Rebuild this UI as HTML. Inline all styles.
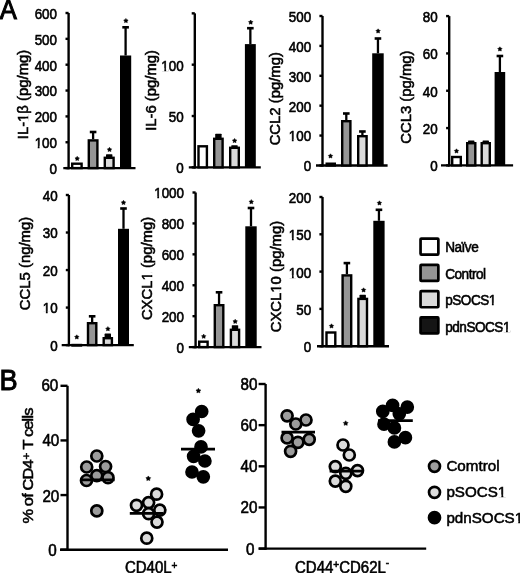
<!DOCTYPE html>
<html><head><meta charset="utf-8"><style>
html,body{margin:0;padding:0;background:#fff;}
body{width:520px;height:573px;overflow:hidden;}
svg{display:block;font-family:"Liberation Sans", sans-serif;will-change:transform;}
text{stroke:#000;stroke-width:0.55px;}
</style></head><body>
<svg width="520" height="573" viewBox="0 0 520 573">
<rect width="520" height="573" fill="#fff"/>
<line x1="68.6" y1="13" x2="68.6" y2="169.29999999999998" stroke="#000" stroke-width="2.4"/>
<line x1="63.3" y1="168.1" x2="135.5" y2="168.1" stroke="#000" stroke-width="2.4"/>
<line x1="65.5" y1="168.1" x2="68.6" y2="168.1" stroke="#000" stroke-width="2.4"/>
<g transform="translate(57.0 174.0) scale(1 1.09)"><text id="t3" x="0" y="0" font-size="13.4" text-anchor="end">0</text></g>
<line x1="65.5" y1="142.25" x2="68.6" y2="142.25" stroke="#000" stroke-width="2.4"/>
<g transform="translate(57.0 148.15) scale(1 1.09)"><text id="t5" x="0" y="0" font-size="13.4" text-anchor="end">100</text><rect x="-22.58" y="-2.15" width="3.32" height="3.05" fill="#fff"/><rect x="-17.48" y="-2.15" width="2.45" height="3.05" fill="#fff"/></g>
<line x1="65.5" y1="116.4" x2="68.6" y2="116.4" stroke="#000" stroke-width="2.4"/>
<g transform="translate(57.0 122.30000000000001) scale(1 1.09)"><text id="t7" x="0" y="0" font-size="13.4" text-anchor="end">200</text></g>
<line x1="65.5" y1="90.55" x2="68.6" y2="90.55" stroke="#000" stroke-width="2.4"/>
<g transform="translate(57.0 96.45) scale(1 1.09)"><text id="t9" x="0" y="0" font-size="13.4" text-anchor="end">300</text></g>
<line x1="65.5" y1="64.7" x2="68.6" y2="64.7" stroke="#000" stroke-width="2.4"/>
<g transform="translate(57.0 70.60000000000001) scale(1 1.09)"><text id="t11" x="0" y="0" font-size="13.4" text-anchor="end">400</text></g>
<line x1="65.5" y1="38.849999999999994" x2="68.6" y2="38.849999999999994" stroke="#000" stroke-width="2.4"/>
<g transform="translate(57.0 44.74999999999999) scale(1 1.09)"><text id="t13" x="0" y="0" font-size="13.4" text-anchor="end">500</text></g>
<line x1="65.5" y1="13.0" x2="68.6" y2="13.0" stroke="#000" stroke-width="2.4"/>
<g transform="translate(57.0 18.9) scale(1 1.09)"><text id="t15" x="0" y="0" font-size="13.4" text-anchor="end">600</text></g>
<rect x="72.2" y="163.7" width="9.4" height="4.399999999999994" fill="#fff" stroke="#000" stroke-width="2.4"/>
<polygon points="77.20,156.30 77.96,157.60 79.43,157.92 78.44,159.05 78.58,160.55 77.20,159.95 75.82,160.55 75.96,159.05 74.97,157.92 76.44,157.60" fill="#000" stroke="#000" stroke-width="0.5" stroke-linejoin="round"/>
<line x1="93.1" y1="131.5" x2="93.1" y2="139.2" stroke="#000" stroke-width="2.3"/>
<line x1="89.8" y1="132.0" x2="96.39999999999999" y2="132.0" stroke="#000" stroke-width="2.6"/>
<rect x="88.8" y="140.39999999999998" width="8.6" height="27.700000000000006" fill="#959595" stroke="#000" stroke-width="2.4"/>
<rect x="105.99999999999999" y="154.2" width="6.4" height="3.399999999999994" fill="#000" rx="0.6"/>
<rect x="104.8" y="157.79999999999998" width="8.799999999999999" height="10.3" fill="#dadada" stroke="#000" stroke-width="2.4"/>
<polygon points="109.50,147.30 110.26,148.60 111.73,148.92 110.74,150.05 110.88,151.55 109.50,150.95 108.12,151.55 108.26,150.05 107.27,148.92 108.74,148.60" fill="#000" stroke="#000" stroke-width="0.5" stroke-linejoin="round"/>
<line x1="125.6" y1="26.8" x2="125.6" y2="55.5" stroke="#000" stroke-width="2.3"/>
<line x1="122.3" y1="27.3" x2="128.9" y2="27.3" stroke="#000" stroke-width="2.6"/>
<rect x="120" y="55.5" width="11.2" height="112.6" fill="#000"/>
<polygon points="125.90,18.40 126.66,19.70 128.13,20.02 127.14,21.15 127.28,22.65 125.90,22.05 124.52,22.65 124.66,21.15 123.67,20.02 125.14,19.70" fill="#000" stroke="#000" stroke-width="0.5" stroke-linejoin="round"/>
<g transform="translate(27.75 94.5) scale(1 1.033) rotate(-90)"><text id="t28" x="0" y="0" font-size="14.4" text-anchor="middle">IL-1β (pg/mg)</text><rect x="-26.79" y="-2.23" width="3.57" height="3.13" fill="#fff"/><rect x="-21.34" y="-2.23" width="2.65" height="3.13" fill="#fff"/></g>
<line x1="194.8" y1="13.35" x2="194.8" y2="168.54999999999998" stroke="#000" stroke-width="2.4"/>
<line x1="188.8" y1="167.35" x2="260.8" y2="167.35" stroke="#000" stroke-width="2.4"/>
<line x1="191.70000000000002" y1="167.35" x2="194.8" y2="167.35" stroke="#000" stroke-width="2.4"/>
<g transform="translate(183.6 173.25) scale(1 1.09)"><text id="t32" x="0" y="0" font-size="13.4" text-anchor="end">0</text></g>
<line x1="191.70000000000002" y1="116.01666666666665" x2="194.8" y2="116.01666666666665" stroke="#000" stroke-width="2.4"/>
<g transform="translate(183.6 121.91666666666666) scale(1 1.09)"><text id="t34" x="0" y="0" font-size="13.4" text-anchor="end">50</text></g>
<line x1="191.70000000000002" y1="64.68333333333332" x2="194.8" y2="64.68333333333332" stroke="#000" stroke-width="2.4"/>
<g transform="translate(183.6 70.58333333333333) scale(1 1.09)"><text id="t36" x="0" y="0" font-size="13.4" text-anchor="end">100</text><rect x="-22.58" y="-2.15" width="3.32" height="3.05" fill="#fff"/><rect x="-17.48" y="-2.15" width="2.45" height="3.05" fill="#fff"/></g>
<line x1="191.70000000000002" y1="13.349999999999994" x2="194.8" y2="13.349999999999994" stroke="#000" stroke-width="2.4"/>
<rect x="198.5" y="146.29999999999998" width="8.4" height="21.05" fill="#fff" stroke="#000" stroke-width="2.4"/>
<rect x="215.20000000000002" y="133.7" width="6.4" height="4.899999999999994" fill="#000" rx="0.6"/>
<rect x="214.2" y="138.79999999999998" width="8.4" height="28.55" fill="#959595" stroke="#000" stroke-width="2.4"/>
<rect x="231.3" y="145.2" width="6.4" height="2.399999999999994" fill="#000" rx="0.6"/>
<rect x="230.2" y="147.79999999999998" width="8.6" height="19.55" fill="#dadada" stroke="#000" stroke-width="2.4"/>
<polygon points="234.60,138.40 235.36,139.70 236.83,140.02 235.84,141.15 235.98,142.65 234.60,142.05 233.22,142.65 233.36,141.15 232.37,140.02 233.84,139.70" fill="#000" stroke="#000" stroke-width="0.5" stroke-linejoin="round"/>
<line x1="250.35" y1="27.7" x2="250.35" y2="44.1" stroke="#000" stroke-width="2.3"/>
<line x1="247.04999999999998" y1="28.2" x2="253.65" y2="28.2" stroke="#000" stroke-width="2.6"/>
<rect x="244.9" y="44.1" width="10.9" height="123.25" fill="#000"/>
<polygon points="250.70,20.00 251.46,21.30 252.93,21.62 251.94,22.75 252.08,24.25 250.70,23.65 249.32,24.25 249.46,22.75 248.47,21.62 249.94,21.30" fill="#000" stroke="#000" stroke-width="0.5" stroke-linejoin="round"/>
<g transform="translate(156.35 90.4) scale(1 1.033) rotate(-90)"><text id="t48" x="0" y="0" font-size="14.4" text-anchor="middle">IL-6 (pg/mg)</text></g>
<line x1="322.5" y1="16.0" x2="322.5" y2="166.64999999999998" stroke="#000" stroke-width="2.4"/>
<line x1="316" y1="165.45" x2="387.6" y2="165.45" stroke="#000" stroke-width="2.4"/>
<line x1="319.4" y1="165.45" x2="322.5" y2="165.45" stroke="#000" stroke-width="2.4"/>
<g transform="translate(311.1 171.35) scale(1 1.09)"><text id="t52" x="0" y="0" font-size="13.4" text-anchor="end">0</text></g>
<line x1="319.4" y1="135.56" x2="322.5" y2="135.56" stroke="#000" stroke-width="2.4"/>
<g transform="translate(311.1 141.46) scale(1 1.09)"><text id="t54" x="0" y="0" font-size="13.4" text-anchor="end">100</text><rect x="-22.58" y="-2.15" width="3.32" height="3.05" fill="#fff"/><rect x="-17.48" y="-2.15" width="2.45" height="3.05" fill="#fff"/></g>
<line x1="319.4" y1="105.66999999999999" x2="322.5" y2="105.66999999999999" stroke="#000" stroke-width="2.4"/>
<g transform="translate(311.1 111.57) scale(1 1.09)"><text id="t56" x="0" y="0" font-size="13.4" text-anchor="end">200</text></g>
<line x1="319.4" y1="75.78" x2="322.5" y2="75.78" stroke="#000" stroke-width="2.4"/>
<g transform="translate(311.1 81.68) scale(1 1.09)"><text id="t58" x="0" y="0" font-size="13.4" text-anchor="end">300</text></g>
<line x1="319.4" y1="45.89" x2="322.5" y2="45.89" stroke="#000" stroke-width="2.4"/>
<g transform="translate(311.1 51.79) scale(1 1.09)"><text id="t60" x="0" y="0" font-size="13.4" text-anchor="end">400</text></g>
<line x1="319.4" y1="16.0" x2="322.5" y2="16.0" stroke="#000" stroke-width="2.4"/>
<g transform="translate(311.1 21.9) scale(1 1.09)"><text id="t62" x="0" y="0" font-size="13.4" text-anchor="end">500</text></g>
<rect x="326.7" y="163.7" width="8.1" height="1.7499999999999887" fill="#fff" stroke="#000" stroke-width="2.4"/>
<polygon points="330.50,153.80 331.26,155.10 332.73,155.42 331.74,156.55 331.88,158.05 330.50,157.45 329.12,158.05 329.26,156.55 328.27,155.42 329.74,155.10" fill="#000" stroke="#000" stroke-width="0.5" stroke-linejoin="round"/>
<line x1="346.3" y1="113" x2="346.3" y2="120" stroke="#000" stroke-width="2.3"/>
<line x1="343.0" y1="113.5" x2="349.6" y2="113.5" stroke="#000" stroke-width="2.6"/>
<rect x="342.2" y="121.2" width="8.2" height="44.249999999999986" fill="#959595" stroke="#000" stroke-width="2.4"/>
<line x1="362.4" y1="131" x2="362.4" y2="135" stroke="#000" stroke-width="2.3"/>
<line x1="359.09999999999997" y1="131.5" x2="365.7" y2="131.5" stroke="#000" stroke-width="2.6"/>
<rect x="358.2" y="136.2" width="8.4" height="29.24999999999999" fill="#dadada" stroke="#000" stroke-width="2.4"/>
<line x1="377.95" y1="38" x2="377.95" y2="53.3" stroke="#000" stroke-width="2.3"/>
<line x1="374.65" y1="38.5" x2="381.25" y2="38.5" stroke="#000" stroke-width="2.6"/>
<rect x="372.2" y="53.3" width="11.5" height="112.14999999999999" fill="#000"/>
<polygon points="378.10,28.80 378.86,30.10 380.33,30.42 379.34,31.55 379.48,33.05 378.10,32.45 376.72,33.05 376.86,31.55 375.87,30.42 377.34,30.10" fill="#000" stroke="#000" stroke-width="0.5" stroke-linejoin="round"/>
<g transform="translate(280.15 98.7) scale(1 1.033) rotate(-90)"><text id="t75" x="0" y="0" font-size="14.4" text-anchor="middle">CCL2 (pg/mg)</text></g>
<line x1="449.2" y1="16.1" x2="449.2" y2="166.6" stroke="#000" stroke-width="2.4"/>
<line x1="441" y1="165.4" x2="513.1" y2="165.4" stroke="#000" stroke-width="2.4"/>
<line x1="446.09999999999997" y1="165.4" x2="449.2" y2="165.4" stroke="#000" stroke-width="2.4"/>
<g transform="translate(437.6 171.3) scale(1 1.09)"><text id="t79" x="0" y="0" font-size="13.4" text-anchor="end">0</text></g>
<line x1="446.09999999999997" y1="128.075" x2="449.2" y2="128.075" stroke="#000" stroke-width="2.4"/>
<g transform="translate(437.6 133.975) scale(1 1.09)"><text id="t81" x="0" y="0" font-size="13.4" text-anchor="end">20</text></g>
<line x1="446.09999999999997" y1="90.75" x2="449.2" y2="90.75" stroke="#000" stroke-width="2.4"/>
<g transform="translate(437.6 96.65) scale(1 1.09)"><text id="t83" x="0" y="0" font-size="13.4" text-anchor="end">40</text></g>
<line x1="446.09999999999997" y1="53.425" x2="449.2" y2="53.425" stroke="#000" stroke-width="2.4"/>
<g transform="translate(437.6 59.324999999999996) scale(1 1.09)"><text id="t85" x="0" y="0" font-size="13.4" text-anchor="end">60</text></g>
<line x1="446.09999999999997" y1="16.099999999999994" x2="449.2" y2="16.099999999999994" stroke="#000" stroke-width="2.4"/>
<g transform="translate(437.6 21.999999999999993) scale(1 1.09)"><text id="t87" x="0" y="0" font-size="13.4" text-anchor="end">80</text></g>
<rect x="452.2" y="157.0" width="8.6" height="8.399999999999995" fill="#fff" stroke="#000" stroke-width="2.4"/>
<polygon points="456.50,148.80 457.26,150.10 458.73,150.42 457.74,151.55 457.88,153.05 456.50,152.45 455.12,153.05 455.26,151.55 454.27,150.42 455.74,150.10" fill="#000" stroke="#000" stroke-width="0.5" stroke-linejoin="round"/>
<rect x="468.05" y="140.5" width="6.4" height="2.4999999999999885" fill="#000" rx="0.6"/>
<rect x="467.2" y="143.2" width="8.1" height="22.200000000000006" fill="#959595" stroke="#000" stroke-width="2.4"/>
<rect x="482.55" y="140.5" width="6.4" height="2.4999999999999885" fill="#000" rx="0.6"/>
<rect x="481.7" y="143.2" width="8.1" height="22.200000000000006" fill="#dadada" stroke="#000" stroke-width="2.4"/>
<line x1="499.90000000000003" y1="55.5" x2="499.90000000000003" y2="72" stroke="#000" stroke-width="2.3"/>
<line x1="496.6" y1="56.0" x2="503.20000000000005" y2="56.0" stroke="#000" stroke-width="2.6"/>
<rect x="494.6" y="72" width="10.6" height="93.4" fill="#000"/>
<polygon points="499.90,46.80 500.66,48.10 502.13,48.42 501.14,49.55 501.28,51.05 499.90,50.45 498.52,51.05 498.66,49.55 497.67,48.42 499.14,48.10" fill="#000" stroke="#000" stroke-width="0.5" stroke-linejoin="round"/>
<g transform="translate(411.25 97.1) scale(1 1.033) rotate(-90)"><text id="t98" x="0" y="0" font-size="14.4" text-anchor="middle">CCL3 (pg/mg)</text></g>
<line x1="68.9" y1="195" x2="68.9" y2="346.3" stroke="#000" stroke-width="2.4"/>
<line x1="61.7" y1="345.1" x2="133.8" y2="345.1" stroke="#000" stroke-width="2.4"/>
<line x1="65.80000000000001" y1="345.1" x2="68.9" y2="345.1" stroke="#000" stroke-width="2.4"/>
<g transform="translate(57.7 351.0) scale(1 1.09)"><text id="t102" x="0" y="0" font-size="13.4" text-anchor="end">0</text></g>
<line x1="65.80000000000001" y1="307.57500000000005" x2="68.9" y2="307.57500000000005" stroke="#000" stroke-width="2.4"/>
<g transform="translate(57.7 313.475) scale(1 1.09)"><text id="t104" x="0" y="0" font-size="13.4" text-anchor="end">10</text><rect x="-15.14" y="-2.15" width="3.32" height="3.05" fill="#fff"/><rect x="-10.04" y="-2.15" width="2.45" height="3.05" fill="#fff"/></g>
<line x1="65.80000000000001" y1="270.05" x2="68.9" y2="270.05" stroke="#000" stroke-width="2.4"/>
<g transform="translate(57.7 275.95) scale(1 1.09)"><text id="t106" x="0" y="0" font-size="13.4" text-anchor="end">20</text></g>
<line x1="65.80000000000001" y1="232.525" x2="68.9" y2="232.525" stroke="#000" stroke-width="2.4"/>
<g transform="translate(57.7 238.425) scale(1 1.09)"><text id="t108" x="0" y="0" font-size="13.4" text-anchor="end">30</text></g>
<line x1="65.80000000000001" y1="195.0" x2="68.9" y2="195.0" stroke="#000" stroke-width="2.4"/>
<g transform="translate(57.7 200.9) scale(1 1.09)"><text id="t110" x="0" y="0" font-size="13.4" text-anchor="end">40</text></g>
<rect x="72.5" y="345.0" width="8.5" height="0.5" fill="#fff" stroke="#000" stroke-width="2.4"/>
<polygon points="76.80,334.80 77.56,336.10 79.03,336.42 78.04,337.55 78.18,339.05 76.80,338.45 75.42,339.05 75.56,337.55 74.57,336.42 76.04,336.10" fill="#000" stroke="#000" stroke-width="0.5" stroke-linejoin="round"/>
<line x1="92.14999999999999" y1="315.8" x2="92.14999999999999" y2="322" stroke="#000" stroke-width="2.3"/>
<line x1="88.85" y1="316.3" x2="95.44999999999999" y2="316.3" stroke="#000" stroke-width="2.6"/>
<rect x="88.0" y="323.2" width="8.299999999999999" height="21.900000000000023" fill="#959595" stroke="#000" stroke-width="2.4"/>
<rect x="104.6" y="333.59999999999997" width="6.4" height="4.400000000000023" fill="#000" rx="0.6"/>
<rect x="103.7" y="338.2" width="8.2" height="6.900000000000023" fill="#dadada" stroke="#000" stroke-width="2.4"/>
<polygon points="107.90,326.60 108.66,327.90 110.13,328.22 109.14,329.35 109.28,330.85 107.90,330.25 106.52,330.85 106.66,329.35 105.67,328.22 107.14,327.90" fill="#000" stroke="#000" stroke-width="0.5" stroke-linejoin="round"/>
<line x1="123.5" y1="208" x2="123.5" y2="228.8" stroke="#000" stroke-width="2.3"/>
<line x1="120.2" y1="208.5" x2="126.8" y2="208.5" stroke="#000" stroke-width="2.6"/>
<rect x="118" y="228.8" width="11" height="116.30000000000001" fill="#000"/>
<polygon points="123.50,200.30 124.26,201.60 125.73,201.92 124.74,203.05 124.88,204.55 123.50,203.95 122.12,204.55 122.26,203.05 121.27,201.92 122.74,201.60" fill="#000" stroke="#000" stroke-width="0.5" stroke-linejoin="round"/>
<g transform="translate(29.75 263.5) scale(1 1.033) rotate(-90)"><text id="t123" x="0" y="0" font-size="14.4" text-anchor="middle">CCL5 (ng/mg)</text></g>
<line x1="195.6" y1="192.5" x2="195.6" y2="348.3" stroke="#000" stroke-width="2.4"/>
<line x1="188.8" y1="347.1" x2="261.5" y2="347.1" stroke="#000" stroke-width="2.4"/>
<line x1="192.5" y1="347.1" x2="195.6" y2="347.1" stroke="#000" stroke-width="2.4"/>
<g transform="translate(184.0 353.0) scale(1 1.09)"><text id="t127" x="0" y="0" font-size="13.4" text-anchor="end">0</text></g>
<line x1="192.5" y1="316.18" x2="195.6" y2="316.18" stroke="#000" stroke-width="2.4"/>
<g transform="translate(184.0 322.08) scale(1 1.09)"><text id="t129" x="0" y="0" font-size="13.4" text-anchor="end">200</text></g>
<line x1="192.5" y1="285.26" x2="195.6" y2="285.26" stroke="#000" stroke-width="2.4"/>
<g transform="translate(184.0 291.15999999999997) scale(1 1.09)"><text id="t131" x="0" y="0" font-size="13.4" text-anchor="end">400</text></g>
<line x1="192.5" y1="254.34" x2="195.6" y2="254.34" stroke="#000" stroke-width="2.4"/>
<g transform="translate(184.0 260.24) scale(1 1.09)"><text id="t133" x="0" y="0" font-size="13.4" text-anchor="end">600</text></g>
<line x1="192.5" y1="223.42000000000002" x2="195.6" y2="223.42000000000002" stroke="#000" stroke-width="2.4"/>
<g transform="translate(184.0 229.32000000000002) scale(1 1.09)"><text id="t135" x="0" y="0" font-size="13.4" text-anchor="end">800</text></g>
<line x1="192.5" y1="192.5" x2="195.6" y2="192.5" stroke="#000" stroke-width="2.4"/>
<g transform="translate(184.0 198.4) scale(1 1.09)"><text id="t137" x="0" y="0" font-size="13.4" text-anchor="end">1000</text><rect x="-30.04" y="-2.15" width="3.32" height="3.05" fill="#fff"/><rect x="-24.93" y="-2.15" width="2.45" height="3.05" fill="#fff"/></g>
<rect x="199.2" y="341.7" width="8.4" height="5.400000000000023" fill="#fff" stroke="#000" stroke-width="2.4"/>
<polygon points="203.70,334.10 204.46,335.40 205.93,335.72 204.94,336.85 205.08,338.35 203.70,337.75 202.32,338.35 202.46,336.85 201.47,335.72 202.94,335.40" fill="#000" stroke="#000" stroke-width="0.5" stroke-linejoin="round"/>
<line x1="219.04999999999998" y1="291.8" x2="219.04999999999998" y2="304" stroke="#000" stroke-width="2.3"/>
<line x1="215.74999999999997" y1="292.3" x2="222.35" y2="292.3" stroke="#000" stroke-width="2.6"/>
<rect x="214.79999999999998" y="305.2" width="8.5" height="41.90000000000002" fill="#959595" stroke="#000" stroke-width="2.4"/>
<rect x="231.8" y="325.2" width="6.4" height="4.400000000000023" fill="#000" rx="0.6"/>
<rect x="230.89999999999998" y="329.8" width="8.2" height="17.3" fill="#dadada" stroke="#000" stroke-width="2.4"/>
<polygon points="235.20,319.20 235.96,320.50 237.43,320.82 236.44,321.95 236.58,323.45 235.20,322.85 233.82,323.45 233.96,321.95 232.97,320.82 234.44,320.50" fill="#000" stroke="#000" stroke-width="0.5" stroke-linejoin="round"/>
<line x1="251.0" y1="207.5" x2="251.0" y2="226.3" stroke="#000" stroke-width="2.3"/>
<line x1="247.7" y1="208.0" x2="254.3" y2="208.0" stroke="#000" stroke-width="2.6"/>
<rect x="245.3" y="226.3" width="11.4" height="120.80000000000001" fill="#000"/>
<polygon points="251.30,199.60 252.06,200.90 253.53,201.22 252.54,202.35 252.68,203.85 251.30,203.25 249.92,203.85 250.06,202.35 249.07,201.22 250.54,200.90" fill="#000" stroke="#000" stroke-width="0.5" stroke-linejoin="round"/>
<g transform="translate(152.05 268.5) scale(1 1.033) rotate(-90)"><text id="t150" x="0" y="0" font-size="14.4" text-anchor="middle">CXCL1 (pg/mg)</text><rect x="-11.86" y="-2.23" width="3.57" height="3.13" fill="#fff"/><rect x="-6.42" y="-2.23" width="2.65" height="3.13" fill="#fff"/></g>
<line x1="322.5" y1="197" x2="322.5" y2="347.4" stroke="#000" stroke-width="2.4"/>
<line x1="317" y1="346.2" x2="389" y2="346.2" stroke="#000" stroke-width="2.4"/>
<line x1="319.4" y1="346.2" x2="322.5" y2="346.2" stroke="#000" stroke-width="2.4"/>
<g transform="translate(311.2 352.09999999999997) scale(1 1.09)"><text id="t154" x="0" y="0" font-size="13.4" text-anchor="end">0</text></g>
<line x1="319.4" y1="308.9" x2="322.5" y2="308.9" stroke="#000" stroke-width="2.4"/>
<g transform="translate(311.2 314.79999999999995) scale(1 1.09)"><text id="t156" x="0" y="0" font-size="13.4" text-anchor="end">50</text></g>
<line x1="319.4" y1="271.6" x2="322.5" y2="271.6" stroke="#000" stroke-width="2.4"/>
<g transform="translate(311.2 277.5) scale(1 1.09)"><text id="t158" x="0" y="0" font-size="13.4" text-anchor="end">100</text><rect x="-22.58" y="-2.15" width="3.32" height="3.05" fill="#fff"/><rect x="-17.48" y="-2.15" width="2.45" height="3.05" fill="#fff"/></g>
<line x1="319.4" y1="234.3" x2="322.5" y2="234.3" stroke="#000" stroke-width="2.4"/>
<g transform="translate(311.2 240.20000000000002) scale(1 1.09)"><text id="t160" x="0" y="0" font-size="13.4" text-anchor="end">150</text><rect x="-22.58" y="-2.15" width="3.32" height="3.05" fill="#fff"/><rect x="-17.48" y="-2.15" width="2.45" height="3.05" fill="#fff"/></g>
<line x1="319.4" y1="197.0" x2="322.5" y2="197.0" stroke="#000" stroke-width="2.4"/>
<g transform="translate(311.2 202.9) scale(1 1.09)"><text id="t162" x="0" y="0" font-size="13.4" text-anchor="end">200</text></g>
<rect x="326.5" y="332.5" width="8.799999999999999" height="13.699999999999978" fill="#fff" stroke="#000" stroke-width="2.4"/>
<polygon points="331.50,323.80 332.26,325.10 333.73,325.42 332.74,326.55 332.88,328.05 331.50,327.45 330.12,328.05 330.26,326.55 329.27,325.42 330.74,325.10" fill="#000" stroke="#000" stroke-width="0.5" stroke-linejoin="round"/>
<line x1="346.9" y1="262.6" x2="346.9" y2="274.2" stroke="#000" stroke-width="2.3"/>
<line x1="343.59999999999997" y1="263.1" x2="350.2" y2="263.1" stroke="#000" stroke-width="2.6"/>
<rect x="342.59999999999997" y="275.4" width="8.6" height="70.8" fill="#959595" stroke="#000" stroke-width="2.4"/>
<rect x="359.5" y="294.8" width="6.4" height="3.8999999999999657" fill="#000" rx="0.6"/>
<rect x="358.4" y="298.9" width="8.6" height="47.3" fill="#dadada" stroke="#000" stroke-width="2.4"/>
<polygon points="363.60,287.80 364.36,289.10 365.83,289.42 364.84,290.55 364.98,292.05 363.60,291.45 362.22,292.05 362.36,290.55 361.37,289.42 362.84,289.10" fill="#000" stroke="#000" stroke-width="0.5" stroke-linejoin="round"/>
<line x1="378.95" y1="209.3" x2="378.95" y2="220.8" stroke="#000" stroke-width="2.3"/>
<line x1="375.65" y1="209.8" x2="382.25" y2="209.8" stroke="#000" stroke-width="2.6"/>
<rect x="373.3" y="220.8" width="11.3" height="125.39999999999998" fill="#000"/>
<polygon points="379.40,200.80 380.16,202.10 381.63,202.42 380.64,203.55 380.78,205.05 379.40,204.45 378.02,205.05 378.16,203.55 377.17,202.42 378.64,202.10" fill="#000" stroke="#000" stroke-width="0.5" stroke-linejoin="round"/>
<g transform="translate(281.45 276.6) scale(1 1.033) rotate(-90)"><text id="t175" x="0" y="0" font-size="14.4" text-anchor="middle">CXCL10 (pg/mg)</text><rect x="-15.86" y="-2.23" width="3.57" height="3.13" fill="#fff"/><rect x="-10.41" y="-2.23" width="2.65" height="3.13" fill="#fff"/></g>
<line x1="67.5" y1="385.8" x2="67.5" y2="550.9000000000001" stroke="#000" stroke-width="2.4"/>
<line x1="60" y1="549.7" x2="228" y2="549.7" stroke="#000" stroke-width="2.4"/>
<line x1="60.5" y1="549.7" x2="67.5" y2="549.7" stroke="#000" stroke-width="2.4"/>
<g transform="translate(56.699999999999996 556.3000000000001) scale(1 1.05)"><text id="t179" x="0" y="0" font-size="15.2" text-anchor="end">0</text></g>
<line x1="60.5" y1="495.0666666666667" x2="67.5" y2="495.0666666666667" stroke="#000" stroke-width="2.4"/>
<g transform="translate(59.3 501.66666666666674) scale(1 1.05)"><text id="t181" x="0" y="0" font-size="15.2" text-anchor="end">20</text></g>
<line x1="60.5" y1="440.43333333333334" x2="67.5" y2="440.43333333333334" stroke="#000" stroke-width="2.4"/>
<g transform="translate(59.3 446.43333333333334) scale(1 1.05)"><text id="t183" x="0" y="0" font-size="15.2" text-anchor="end">40</text></g>
<line x1="60.5" y1="385.8" x2="67.5" y2="385.8" stroke="#000" stroke-width="2.4"/>
<g transform="translate(58.3 390.5) scale(1 1.05)"><text id="t185" x="0" y="0" font-size="15.2" text-anchor="end">60</text></g>
<circle cx="96.8" cy="456" r="5.5" fill="#9c9c9c" stroke="#000" stroke-width="2.7"/>
<circle cx="86.7" cy="467" r="5.5" fill="#9c9c9c" stroke="#000" stroke-width="2.7"/>
<circle cx="105.6" cy="466.5" r="5.5" fill="#9c9c9c" stroke="#000" stroke-width="2.7"/>
<circle cx="96.8" cy="475.6" r="5.5" fill="#9c9c9c" stroke="#000" stroke-width="2.7"/>
<circle cx="86.5" cy="480.5" r="5.5" fill="#9c9c9c" stroke="#000" stroke-width="2.7"/>
<circle cx="108" cy="477.7" r="5.5" fill="#9c9c9c" stroke="#000" stroke-width="2.7"/>
<circle cx="96.8" cy="510.9" r="5.5" fill="#9c9c9c" stroke="#000" stroke-width="2.7"/>
<line x1="80.5" y1="479.9" x2="114.6" y2="479.9" stroke="#000" stroke-width="2.7"/>
<circle cx="156.6" cy="494.2" r="5.5" fill="#dcdcdc" stroke="#000" stroke-width="2.7"/>
<circle cx="136.5" cy="505.3" r="5.5" fill="#dcdcdc" stroke="#000" stroke-width="2.7"/>
<circle cx="148.6" cy="502.6" r="5.5" fill="#dcdcdc" stroke="#000" stroke-width="2.7"/>
<circle cx="159.8" cy="510.2" r="5.5" fill="#dcdcdc" stroke="#000" stroke-width="2.7"/>
<circle cx="148.6" cy="513.7" r="5.5" fill="#dcdcdc" stroke="#000" stroke-width="2.7"/>
<circle cx="157" cy="522.1" r="5.5" fill="#dcdcdc" stroke="#000" stroke-width="2.7"/>
<circle cx="146.75" cy="538.2" r="5.5" fill="#dcdcdc" stroke="#000" stroke-width="2.7"/>
<line x1="129.8" y1="513.4" x2="163" y2="513.4" stroke="#000" stroke-width="2.7"/>
<polygon points="148.30,475.95 149.15,477.33 150.73,477.71 149.68,478.95 149.80,480.56 148.30,479.95 146.80,480.56 146.92,478.95 145.87,477.71 147.45,477.33" fill="#000" stroke="#000" stroke-width="0.5" stroke-linejoin="round"/>
<circle cx="201.7" cy="411.5" r="5.5" fill="#000" stroke="#000" stroke-width="2.7"/>
<circle cx="193.1" cy="419.4" r="5.5" fill="#000" stroke="#000" stroke-width="2.7"/>
<circle cx="198.6" cy="430.8" r="5.5" fill="#000" stroke="#000" stroke-width="2.7"/>
<circle cx="201" cy="446.9" r="5.5" fill="#000" stroke="#000" stroke-width="2.7"/>
<circle cx="193.6" cy="456.3" r="5.5" fill="#000" stroke="#000" stroke-width="2.7"/>
<circle cx="204.9" cy="461" r="5.5" fill="#000" stroke="#000" stroke-width="2.7"/>
<circle cx="192" cy="472" r="5.5" fill="#000" stroke="#000" stroke-width="2.7"/>
<circle cx="203.3" cy="476.8" r="5.5" fill="#000" stroke="#000" stroke-width="2.7"/>
<line x1="181" y1="449.2" x2="215" y2="449.2" stroke="#000" stroke-width="2.7"/>
<polygon points="198.40,388.25 199.25,389.63 200.83,390.01 199.78,391.25 199.90,392.86 198.40,392.25 196.90,392.86 197.02,391.25 195.97,390.01 197.55,389.63" fill="#000" stroke="#000" stroke-width="0.5" stroke-linejoin="round"/>
<g transform="translate(151.2 573.3) scale(1 1.05)"><text id="t213" x="0" y="0" font-size="15" text-anchor="middle">CD40L<tspan font-size="10" dy="-4.4">+</tspan></text></g>
<line x1="265.6" y1="384" x2="265.6" y2="549.8000000000001" stroke="#000" stroke-width="2.4"/>
<line x1="258.7" y1="548.6" x2="426.2" y2="548.6" stroke="#000" stroke-width="2.4"/>
<line x1="258.6" y1="548.6" x2="265.6" y2="548.6" stroke="#000" stroke-width="2.4"/>
<g transform="translate(254.4 555.1) scale(1 1.05)"><text id="t217" x="0" y="0" font-size="15.2" text-anchor="end">0</text></g>
<line x1="258.6" y1="507.45000000000005" x2="265.6" y2="507.45000000000005" stroke="#000" stroke-width="2.4"/>
<g transform="translate(257.5 513.45) scale(1 1.05)"><text id="t219" x="0" y="0" font-size="15.2" text-anchor="end">20</text></g>
<line x1="258.6" y1="466.3" x2="265.6" y2="466.3" stroke="#000" stroke-width="2.4"/>
<g transform="translate(257.5 472.3) scale(1 1.05)"><text id="t221" x="0" y="0" font-size="15.2" text-anchor="end">40</text></g>
<line x1="258.6" y1="425.15" x2="265.6" y2="425.15" stroke="#000" stroke-width="2.4"/>
<g transform="translate(257.5 431.15) scale(1 1.05)"><text id="t223" x="0" y="0" font-size="15.2" text-anchor="end">60</text></g>
<line x1="258.6" y1="384.0" x2="265.6" y2="384.0" stroke="#000" stroke-width="2.4"/>
<g transform="translate(257.5 390.0) scale(1 1.05)"><text id="t225" x="0" y="0" font-size="15.2" text-anchor="end">80</text></g>
<circle cx="287.1" cy="415.8" r="5.5" fill="#9c9c9c" stroke="#000" stroke-width="2.7"/>
<circle cx="306" cy="420" r="5.5" fill="#9c9c9c" stroke="#000" stroke-width="2.7"/>
<circle cx="295.8" cy="424" r="5.5" fill="#9c9c9c" stroke="#000" stroke-width="2.7"/>
<circle cx="287.1" cy="437.9" r="5.5" fill="#9c9c9c" stroke="#000" stroke-width="2.7"/>
<circle cx="297.9" cy="442.3" r="5.5" fill="#9c9c9c" stroke="#000" stroke-width="2.7"/>
<circle cx="309.2" cy="439.4" r="5.5" fill="#9c9c9c" stroke="#000" stroke-width="2.7"/>
<circle cx="290.6" cy="451.3" r="5.5" fill="#9c9c9c" stroke="#000" stroke-width="2.7"/>
<line x1="281.5" y1="432.1" x2="315" y2="432.1" stroke="#000" stroke-width="2.7"/>
<circle cx="343" cy="445" r="5.5" fill="#dcdcdc" stroke="#000" stroke-width="2.7"/>
<circle cx="349.3" cy="455" r="5.5" fill="#dcdcdc" stroke="#000" stroke-width="2.7"/>
<circle cx="335.3" cy="466.6" r="5.5" fill="#dcdcdc" stroke="#000" stroke-width="2.7"/>
<circle cx="345.8" cy="473.3" r="5.5" fill="#dcdcdc" stroke="#000" stroke-width="2.7"/>
<circle cx="357.5" cy="470.6" r="5.5" fill="#dcdcdc" stroke="#000" stroke-width="2.7"/>
<circle cx="335.3" cy="481.1" r="5.5" fill="#dcdcdc" stroke="#000" stroke-width="2.7"/>
<circle cx="345.8" cy="486.3" r="5.5" fill="#dcdcdc" stroke="#000" stroke-width="2.7"/>
<line x1="329.6" y1="471.1" x2="363.4" y2="471.1" stroke="#000" stroke-width="2.7"/>
<polygon points="345.70,420.75 346.55,422.13 348.13,422.51 347.08,423.75 347.20,425.36 345.70,424.75 344.20,425.36 344.32,423.75 343.27,422.51 344.85,422.13" fill="#000" stroke="#000" stroke-width="0.5" stroke-linejoin="round"/>
<circle cx="392.6" cy="405.3" r="5.5" fill="#000" stroke="#000" stroke-width="2.7"/>
<circle cx="407.3" cy="407.1" r="5.5" fill="#000" stroke="#000" stroke-width="2.7"/>
<circle cx="382.8" cy="411.4" r="5.5" fill="#000" stroke="#000" stroke-width="2.7"/>
<circle cx="399.3" cy="413.8" r="5.5" fill="#000" stroke="#000" stroke-width="2.7"/>
<circle cx="384" cy="424.2" r="5.5" fill="#000" stroke="#000" stroke-width="2.7"/>
<circle cx="394.4" cy="427.9" r="5.5" fill="#000" stroke="#000" stroke-width="2.7"/>
<circle cx="405.4" cy="437.7" r="5.5" fill="#000" stroke="#000" stroke-width="2.7"/>
<circle cx="394.4" cy="441.9" r="5.5" fill="#000" stroke="#000" stroke-width="2.7"/>
<line x1="378" y1="420.6" x2="412.8" y2="420.6" stroke="#000" stroke-width="2.7"/>
<g transform="translate(342.1 573.3) scale(1 1.05)"><text id="t252" x="0" y="0" font-size="15" text-anchor="middle">CD44<tspan font-size="10" dy="-5.5">+</tspan><tspan dy="5.5">CD62L</tspan><tspan font-size="10" dy="-6.6">-</tspan></text></g>
<g transform="translate(-0.2 18.6) scale(1 1.09)"><text id="t253" x="0" y="0" font-size="25.6" text-anchor="start" style="stroke-width:1.0px">A</text></g>
<g transform="translate(-0.5 389.8) scale(1 1.09)"><text id="t254" x="0" y="0" font-size="27.2" text-anchor="start" style="stroke-width:0.9px">B</text></g>
<rect x="420.55" y="238.54999999999998" width="17.8" height="16.1" fill="#fff" stroke="#000" stroke-width="2.7" rx="0.8"/>
<g transform="translate(445.2 251.6) scale(1 1.09)"><text id="t256" x="0" y="0" font-size="13.6" text-anchor="start" letter-spacing="-0.5">Naïve</text></g>
<rect x="420.55" y="264.85" width="17.8" height="16.1" fill="#959595" stroke="#000" stroke-width="2.7" rx="0.8"/>
<g transform="translate(445.2 278.6) scale(1 1.09)"><text id="t258" x="0" y="0" font-size="13.6" text-anchor="start" letter-spacing="-0.5">Control</text></g>
<rect x="420.55" y="291.15000000000003" width="17.8" height="16.1" fill="#dadada" stroke="#000" stroke-width="2.7" rx="0.8"/>
<g transform="translate(445.2 305.2) scale(1 1.09)"><text id="t260" x="0" y="0" font-size="13.6" text-anchor="start" letter-spacing="-0.5">pSOCS1</text><rect x="43.33" y="-2.17" width="3.37" height="3.07" fill="#fff"/><rect x="48.50" y="-2.17" width="2.49" height="3.07" fill="#fff"/></g>
<rect x="420.55" y="317.35" width="17.8" height="16.1" fill="#151515" stroke="#000" stroke-width="2.7" rx="0.8"/>
<g transform="translate(445.2 331.5) scale(1 1.09)"><text id="t262" x="0" y="0" font-size="13.6" text-anchor="start" letter-spacing="-0.5">pdnSOCS1</text><rect x="57.44" y="-2.17" width="3.37" height="3.07" fill="#fff"/><rect x="62.62" y="-2.17" width="2.49" height="3.07" fill="#fff"/></g>
<circle cx="434.5" cy="466.3" r="5.5" fill="#9c9c9c" stroke="#000" stroke-width="2.7"/>
<g transform="translate(446.4 470.6) scale(1 0.93)"><text id="t264" x="0" y="0" font-size="15.2" text-anchor="start">Comtrol</text></g>
<circle cx="434.5" cy="492.3" r="5.5" fill="#dcdcdc" stroke="#000" stroke-width="2.7"/>
<g transform="translate(446.4 496.7) scale(1 0.93)"><text id="t266" x="0" y="0" font-size="15.2" text-anchor="start">pSOCS1</text><rect x="51.19" y="-2.29" width="3.77" height="3.19" fill="#fff"/><rect x="56.91" y="-2.29" width="2.82" height="3.19" fill="#fff"/></g>
<circle cx="434.5" cy="517.7" r="5.5" fill="#000" stroke="#000" stroke-width="2.7"/>
<g transform="translate(446.4 523) scale(1 0.93)"><text id="t268" x="0" y="0" font-size="15.2" text-anchor="start">pdnSOCS1</text><rect x="68.08" y="-2.29" width="3.77" height="3.19" fill="#fff"/><rect x="73.80" y="-2.29" width="2.82" height="3.19" fill="#fff"/></g>
<g transform="translate(33.0 466.0) scale(1 1.09) rotate(-90)"><text id="t269" x="0" y="0" font-size="15" text-anchor="middle" letter-spacing="-0.75">% of CD4<tspan font-size="10.5" dx="0.6" dy="-2.9">+</tspan><tspan dx="0.6" dy="2.9"> T cells</tspan></text></g>
</svg>
</body></html>
